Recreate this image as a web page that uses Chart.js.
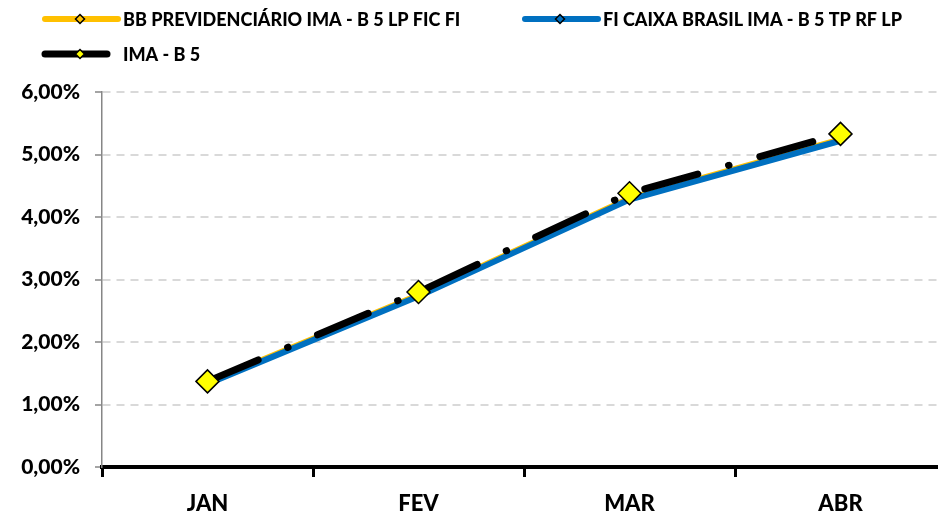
<!DOCTYPE html>
<html>
<head>
<meta charset="utf-8">
<script src="https://cdn.jsdelivr.net/npm/chart.js@4.4.1/dist/chart.umd.min.js"></script>
<style>
  html, body { margin: 0; padding: 0; background: #fff; overflow: hidden; }
  #wrap { position: relative; width: 960px; height: 514px; }
</style>
</head>
<body>
<div id="wrap"><canvas id="chart"></canvas></div>
<script>
// Chart data (percent values).
const months = [ 'JAN', 'FEV', 'MAR', 'ABR' ];
const bbPrev = [ 1.35, 2.75, 4.30, 5.24 ];
const caixa = [ 1.33, 2.73, 4.28, 5.22 ];
const imaB5 = [ 1.37, 2.80, 4.38, 5.33 ];
const seriesNames = [
  'BB PREVIDENCIÁRIO IMA - B 5 LP FIC FI',
  'FI CAIXA BRASIL IMA - B 5 TP RF LP',
  'IMA - B 5'
];

const FONT = 'Lato, "Open Sans", sans-serif';

// Legend drawn on the canvas so it sits where the original one does.
const legendPlugin = {
  id: 'topLegend',
  afterDraw( chart ) {
    const ctx = chart.ctx;
    const items = [
      { x: 45, w: 73, y: 19, color: '#FFC000', lw: 6, fill: '#FFC000', text: seriesNames[0] },
      { x: 525, w: 73, y: 19, color: '#0070C0', lw: 6, fill: '#0070C0', text: seriesNames[1] },
      { x: 45, w: 62, y: 54, color: '#000000', lw: 7, fill: '#FFFF00', text: seriesNames[2] }
    ];
    ctx.save();
    items.forEach( function ( it ) {
      ctx.beginPath();
      ctx.lineCap = 'round';
      ctx.strokeStyle = it.color;
      ctx.lineWidth = it.lw;
      ctx.moveTo( it.x, it.y );
      ctx.lineTo( it.x + it.w, it.y );
      ctx.stroke();

      // small diamond marker
      const cx = it.x + 35, r = 4.5;
      ctx.beginPath();
      ctx.moveTo( cx, it.y - r );
      ctx.lineTo( cx + r, it.y );
      ctx.lineTo( cx, it.y + r );
      ctx.lineTo( cx - r, it.y );
      ctx.closePath();
      ctx.fillStyle = it.fill;
      ctx.fill();
      ctx.lineWidth = 1.5;
      ctx.strokeStyle = '#000';
      ctx.stroke();

      ctx.fillStyle = '#000';
      ctx.font = '900 18px ' + FONT;
      ctx.textBaseline = 'middle';
      ctx.textAlign = 'left';
      ctx.fillText( it.text, it.x + 78, it.y + 1 );
    } );
    ctx.restore();
  }
};

new Chart( document.getElementById( 'chart' ), {
  type: 'line',
  data: {
    labels: months,
    datasets: [
      {
        label: seriesNames[2],
        data: imaB5,
        order: 1,
        borderColor: '#000000',
        borderWidth: 7,
        borderDash: [ 55, 32, 0.5, 32 ],
        borderCapStyle: 'round',
        pointStyle: 'rectRot',
        pointRadius: 11.5,
        pointHoverRadius: 11.5,
        pointBackgroundColor: '#FFFF00',
        pointBorderColor: '#000000',
        pointBorderWidth: 1.5,
        tension: 0
      },
      {
        label: seriesNames[1],
        data: caixa,
        order: 2,
        borderColor: '#0070C0',
        borderWidth: 6,
        pointRadius: 0,
        tension: 0
      },
      {
        label: seriesNames[0],
        data: bbPrev,
        order: 3,
        borderColor: '#FFC000',
        borderWidth: 6,
        pointRadius: 0,
        tension: 0
      }
    ]
  },
  options: {
    responsive: true,
    maintainAspectRatio: false,
    animation: false,
    layout: {
      padding: { top: 92, right: 14, bottom: 0, left: 0 }
    },
    plugins: {
      legend: { display: false },
      tooltip: { enabled: false }
    },
    scales: {
      x: {
        offset: true,
        afterFit: function ( scale ) { scale.height = 47; },
        grid: {
          offset: true,
          drawOnChartArea: false,
          drawTicks: true,
          tickLength: 10,
          tickWidth: 3,
          tickColor: '#000'
        },
        border: { display: true, color: '#000', width: 4 },
        ticks: {
          color: '#000',
          padding: 14,
          font: { family: FONT, size: 22, weight: '900' }
        }
      },
      y: {
        min: 0,
        max: 6,
        afterFit: function ( scale ) { scale.width = 102; },
        grid: {
          color: function ( c ) { return c.tick && c.tick.value === 0 ? 'rgba(0,0,0,0)' : '#D9D9D9'; },
          lineWidth: 2,
          tickLength: 7,
          tickWidth: 1.5,
          tickColor: '#868686',
          tickBorderDash: []
        },
        border: { display: true, color: '#868686', width: 1.5, dash: [ 8, 6 ] },
        ticks: {
          stepSize: 1,
          color: '#000',
          padding: 15,
          font: { family: FONT, size: 21, weight: '900' },
          callback: function ( v ) { return v.toFixed( 2 ).replace( '.', ',' ) + '%'; }
        }
      }
    }
  },
  plugins: [ legendPlugin ]
} );
</script>
</body>
</html>
